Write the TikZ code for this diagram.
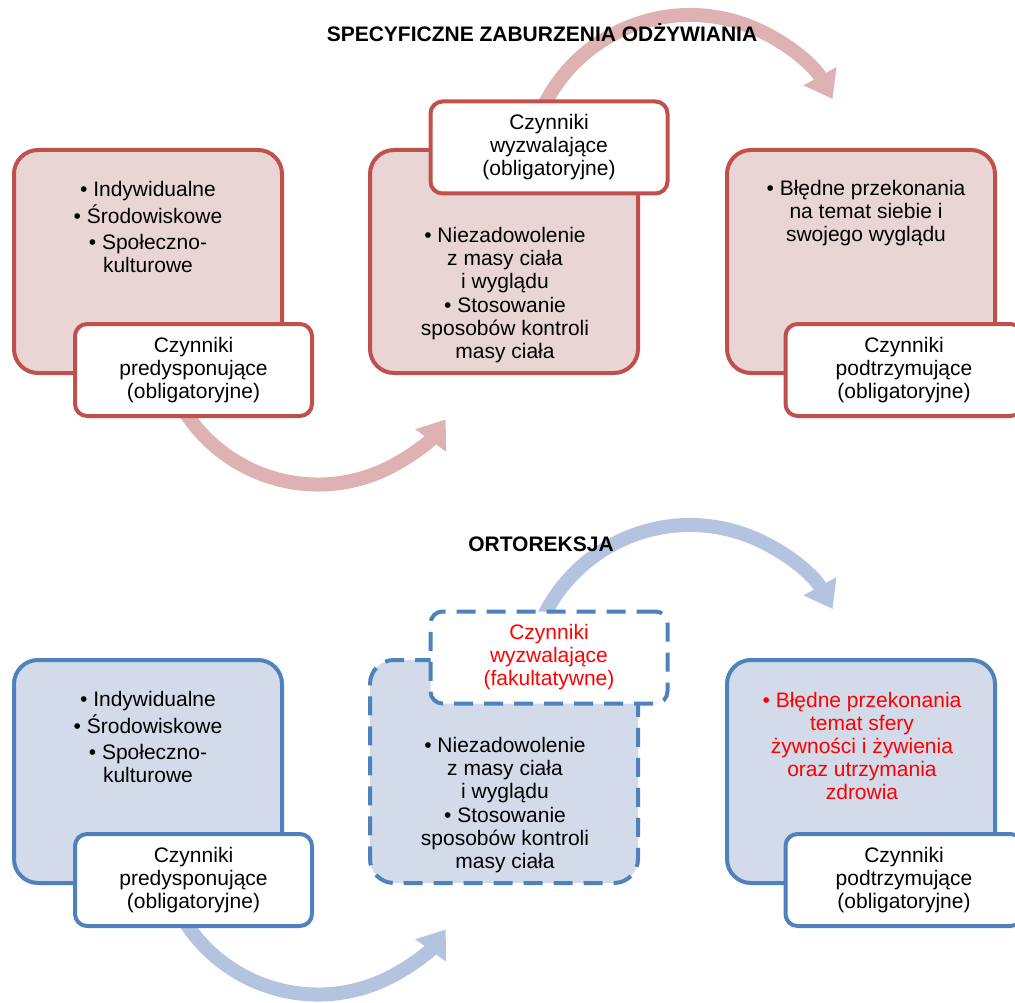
\documentclass[tikz,border=0pt]{standalone}
\usepackage{fontspec}
\setmainfont{Liberation Sans}
\usepackage{xcolor}
\usetikzlibrary{arrows.meta,backgrounds}

\definecolor{redline}{HTML}{C0504D}
\definecolor{redfill}{RGB}{234,213,213}
\definecolor{redarc}{RGB}{222,178,178}
\definecolor{blueline}{HTML}{4F81BD}
\definecolor{bluefill}{RGB}{211,218,233}
\definecolor{bluearc}{RGB}{180,196,224}
\definecolor{textred}{RGB}{255,0,0}

\begin{document}
\begin{tikzpicture}[x=1pt, y=1pt, font=\fontsize{21}{23}\selectfont,
  bigbox/.style={draw, line width=4pt, rounded corners=24pt, minimum width=268pt, minimum height=223pt},
  tagbox/.style={draw, fill=white, line width=4pt, rounded corners=12pt, minimum width=237pt, minimum height=92pt, align=center, inner sep=0pt},
  bodytext/.style={align=center, inner sep=0pt},
  redset/.style={draw=redline, fill=redfill},
  blueset/.style={draw=blueline, fill=bluefill},
  dashedbox/.style={dash pattern=on 19pt off 11pt},
  arcarrow/.style={line width=14pt, -{Triangle[length=26pt, width=36pt]}},
  headline/.style={font=\fontsize{21}{23}\selectfont\bfseries}]
  \useasboundingbox (0,0) rectangle (1015,-1003);
  \clip (0,0) rectangle (1015,-1003);

  % specyficzne zaburzenia
  \node[headline] (titleSZO) at (542,-33) {SPECYFICZNE ZABURZENIA ODŻYWIANIA};
  \node[bigbox, redset] (boxA) at (148,-261.5) {};
  \node[bodytext] (textA) at (148,-227) {• Indywidualne\\[2.5pt]• Środowiskowe\\[2.5pt]• Społeczno-\\kulturowe};
  \node[tagbox, draw=redline] (predA) at (193.5,-370) {Czynniki\\predysponujące\\(obligatoryjne)};
  \node[bigbox, redset] (boxB) at (504,-261.5) {};
  \node[bodytext] (textB) at (505,-295) {• Niezadowolenie\\z masy ciała\\i wyglądu\\[1pt]• Stosowanie\\sposobów kontroli\\masy ciała};
  \node[tagbox, draw=redline] (trigB) at (549,-147.5) {Czynniki\\wyzwalające\\(obligatoryjne)};
  \node[bigbox, redset] (boxC) at (861,-261.5) {};
  \node[bodytext] (textC) at (866,-213) {• Błędne przekonania\\na temat siebie i\\swojego wyglądu};
  \node[tagbox, draw=redline] (podC) at (904,-370) {Czynniki\\podtrzymujące\\(obligatoryjne)};
  \coordinate (arcAB) at (318,-326.5);
  \coordinate (arcBC) at (690,-178);

  % ortoreksja
  \node[headline] (titleORT) at (541,-544) {ORTOREKSJA};
  \node[bigbox, blueset] (boxA2) at (148,-771.5) {};
  \node[bodytext] (textA2) at (148,-737) {• Indywidualne\\[2.5pt]• Środowiskowe\\[2.5pt]• Społeczno-\\kulturowe};
  \node[tagbox, draw=blueline] (predA2) at (193.5,-880) {Czynniki\\predysponujące\\(obligatoryjne)};
  \node[bigbox, blueset, dashedbox] (boxB2) at (504,-771.5) {};
  \node[bodytext] (textB2) at (505,-805) {• Niezadowolenie\\z masy ciała\\i wyglądu\\[1pt]• Stosowanie\\sposobów kontroli\\masy ciała};
  \node[tagbox, draw=blueline, dashedbox, text=textred] (trigB2) at (549,-657.5) {Czynniki\\wyzwalające\\(fakultatywne)};
  \node[bigbox, blueset] (boxC2) at (861,-771.5) {};
  \node[bodytext, text=textred] (textC2) at (862,-746) {• Błędne przekonania\\temat sfery\\żywności i żywienia\\oraz utrzymania\\zdrowia};
  \node[tagbox, draw=blueline] (podC2) at (904,-880) {Czynniki\\podtrzymujące\\(obligatoryjne)};
  \coordinate (arcAB2) at (318,-836.5);
  \coordinate (arcBC2) at (690,-688);

  \begin{scope}[on background layer]
    \draw[arcarrow, redarc] ([shift={(205:158)}]arcAB) arc[start angle=205, end angle=324, radius=158];
    \draw[arcarrow, redarc] ([shift={(160:163)}]arcBC) arc[start angle=160, end angle=29, radius=163];
    \draw[arcarrow, bluearc] ([shift={(205:158)}]arcAB2) arc[start angle=205, end angle=324, radius=158];
    \draw[arcarrow, bluearc] ([shift={(160:163)}]arcBC2) arc[start angle=160, end angle=29, radius=163];
  \end{scope}
\end{tikzpicture}
\end{document}
